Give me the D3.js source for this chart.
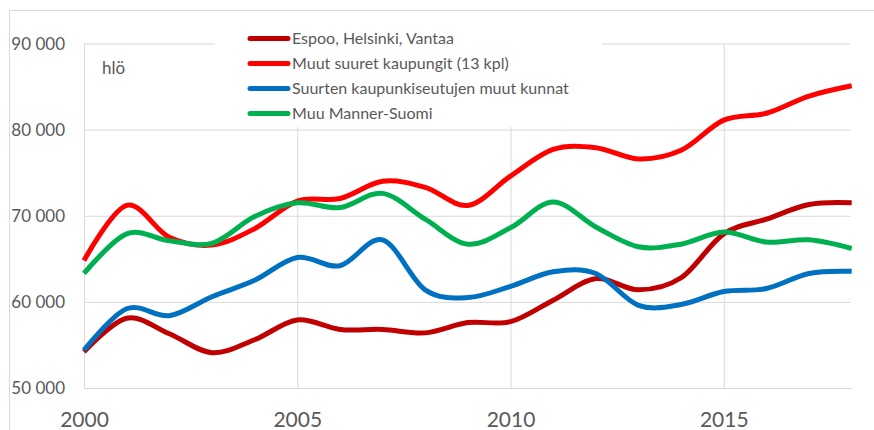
<!DOCTYPE html>
<html>
<head>
<meta charset="utf-8">
<script src="https://cdn.jsdelivr.net/npm/d3@7"></script>
<style>
  html, body { margin: 0; padding: 0; background: #fff; }
  svg { display: block; }
  text { font-family: Lato, "Open Sans", sans-serif; fill: #595959; }
</style>
</head>
<body>
<div id="chart"></div>
<script>
// data
const years = [2000, 2001, 2002, 2003, 2004, 2005, 2006, 2007, 2008, 2009,
               2010, 2011, 2012, 2013, 2014, 2015, 2016, 2017, 2018];
const seriesNames = ["Espoo, Helsinki, Vantaa", "Muut suuret kaupungit (13 kpl)",
                     "Suurten kaupunkiseutujen muut kunnat", "Muu Manner-Suomi"];
const espooHelsinkiVantaa = [54200, 58100, 56300, 54100, 55600, 57900, 56800, 56800, 56400, 57600,
                             57700, 60200, 62700, 61400, 62800, 67900, 69600, 71300, 71500];
const muutSuuret = [64800, 71200, 67500, 66600, 68500, 71700, 72000, 74000, 73300, 71200,
                    74600, 77700, 77900, 76600, 77600, 81100, 81900, 83900, 85100];
const kaupunkiseudut = [54400, 59200, 58400, 60600, 62500, 65150, 64200, 67200, 61400, 60500,
                        61800, 63500, 63300, 59600, 59700, 61200, 61550, 63300, 63550];
const muuMannerSuomi = [63300, 67900, 67100, 66800, 69900, 71500, 70950, 72600, 69600, 66700,
                        68600, 71600, 68700, 66400, 66700, 68100, 66950, 67200, 66200];
const yTicks = [50000, 60000, 70000, 80000, 90000];
const xTicks = [2000, 2005, 2010, 2015];
const colors = ["#C00000", "#FF0000", "#0070C0", "#00B050"];

const allSeries = [espooHelsinkiVantaa, muutSuuret, kaupunkiseudut, muuMannerSuomi];

const W = 874, H = 430;
const plotLeft = 84, plotRight = 851.7, plotTop = 43.5, plotBottom = 388;

const svg = d3.select("#chart").append("svg")
  .attr("width", W)
  .attr("height", H);

// outer frame
svg.append("rect")
  .attr("x", 9.5).attr("y", 10.5)
  .attr("width", 900).attr("height", 500)
  .attr("fill", "none")
  .attr("stroke", "#d9d9d9");

const x = d3.scaleLinear().domain([2000, 2018]).range([plotLeft, plotRight]);
const y = d3.scaleLinear().domain([50000, 90000]).range([plotBottom, plotTop]);

const fmt = d => d3.format(",")(d).replace(/,/g, " ");

// horizontal grid + y labels
const yAxis = d3.axisLeft(y).tickValues(yTicks).tickSize(-(plotRight - plotLeft - 1)).tickFormat(fmt);
const yg = svg.append("g")
  .attr("transform", "translate(" + plotLeft + ",0)")
  .call(yAxis);
yg.select(".domain").remove();
yg.selectAll(".tick line").attr("stroke", "#d9d9d9");
yg.selectAll(".tick text")
  .attr("x", -19)
  .attr("dy", "0.35em")
  .style("font-size", "17px")
  .style("fill", "#595959");

// vertical grid + x labels
const xAxis = d3.axisBottom(x).tickValues(xTicks).tickSize(-(plotBottom - plotTop)).tickFormat(d3.format("d"));
const xg = svg.append("g")
  .attr("transform", "translate(0," + plotBottom + ")")
  .call(xAxis);
xg.select(".domain").remove();
xg.selectAll(".tick line").attr("stroke", "#d9d9d9");
xg.selectAll(".tick text")
  .attr("y", 39)
  .attr("dy", 0)
  .style("font-size", "21px")
  .style("fill", "#595959");

// left and bottom axis lines
svg.append("line")
  .attr("x1", plotLeft + 0.5).attr("x2", plotLeft + 0.5)
  .attr("y1", plotTop).attr("y2", plotBottom)
  .attr("stroke", "#d9d9d9");
svg.append("line")
  .attr("x1", plotLeft).attr("x2", plotRight)
  .attr("y1", plotBottom + 0.5).attr("y2", plotBottom + 0.5)
  .attr("stroke", "#d9d9d9");

// legend background hides the grid under it
svg.append("rect")
  .attr("x", 215).attr("y", 20)
  .attr("width", 387).attr("height", 107)
  .attr("fill", "#fff");

svg.append("text")
  .attr("x", 102).attr("y", 74)
  .style("font-size", "17px")
  .text("hlö");

// lines
const line = d3.line()
  .x((d, i) => x(years[i]))
  .y(d => y(d))
  .curve(d3.curveCatmullRom.alpha(0));

svg.selectAll(".series")
  .data(allSeries)
  .enter().append("path")
  .attr("class", "series")
  .attr("d", d => line(d))
  .attr("fill", "none")
  .attr("stroke", (d, i) => colors[i])
  .attr("stroke-width", 5)
  .attr("stroke-linejoin", "round");

// legend
const lg = svg.selectAll(".legend")
  .data(seriesNames)
  .enter().append("g")
  .attr("class", "legend")
  .attr("transform", (d, i) => "translate(0," + (38.5 + i * 25) + ")");
lg.append("line")
  .attr("x1", 250).attr("x2", 288)
  .attr("stroke", (d, i) => colors[i])
  .attr("stroke-width", 5)
  .attr("stroke-linecap", "round");
lg.append("text")
  .attr("x", 292)
  .attr("dy", "0.35em")
  .style("font-size", "16px")
  .text(d => d);
</script>
</body>
</html>
